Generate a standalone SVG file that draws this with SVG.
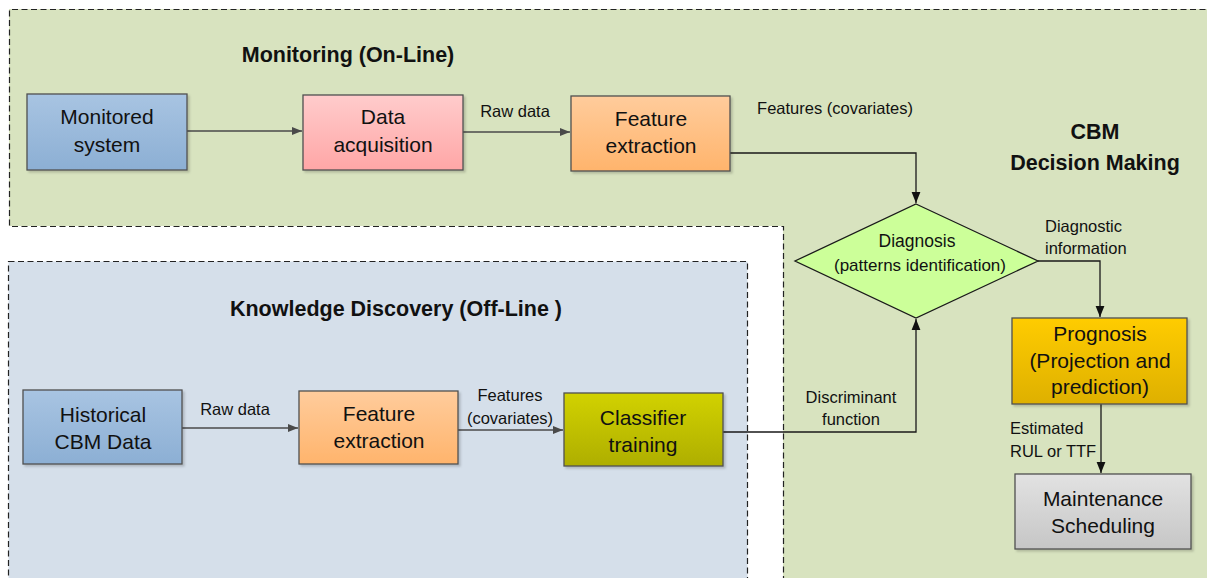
<svg xmlns="http://www.w3.org/2000/svg" width="1207" height="578" viewBox="0 0 1207 578">
<style>
.region{stroke:#222;stroke-width:1.2;stroke-dasharray:6 3.5;}
.box{stroke:#505050;stroke-width:1.3;}
.t{font-family:"Liberation Sans",Arial,sans-serif;fill:#111;text-anchor:middle;}
.bt{font-size:21px;}
.lb{font-size:16.5px;}
.ttl{font-size:21.5px;font-weight:bold;}
.conn{fill:none;stroke:#4a4a4a;stroke-width:1.5;}
.connk{fill:none;stroke:#1a1a1a;stroke-width:1.3;}
</style>
<defs>
<linearGradient id="gBlue" x1="0" y1="0" x2="0" y2="1"><stop offset="0" stop-color="#a8c4e2"/><stop offset="1" stop-color="#8cafd4"/></linearGradient>
<linearGradient id="gPink" x1="0" y1="0" x2="0" y2="1"><stop offset="0" stop-color="#ffcccc"/><stop offset="1" stop-color="#ffa6a6"/></linearGradient>
<linearGradient id="gOrange" x1="0" y1="0" x2="0" y2="1"><stop offset="0" stop-color="#ffcc9c"/><stop offset="1" stop-color="#ffb46c"/></linearGradient>
<linearGradient id="gOlive" x1="0" y1="0" x2="0" y2="1"><stop offset="0" stop-color="#d2d200"/><stop offset="1" stop-color="#aeae00"/></linearGradient>
<linearGradient id="gGold" x1="0" y1="0" x2="0" y2="1"><stop offset="0" stop-color="#ffcc00"/><stop offset="1" stop-color="#deb000"/></linearGradient>
<linearGradient id="gGray" x1="0" y1="0" x2="0" y2="1"><stop offset="0" stop-color="#e2e2e2"/><stop offset="1" stop-color="#c6c6c6"/></linearGradient>
<filter id="sh" x="-10%" y="-10%" width="130%" height="130%"><feDropShadow dx="2" dy="2" stdDeviation="1.2" flood-color="#000" flood-opacity="0.18"/></filter>
<marker id="ah" viewBox="0 0 10 10" refX="10" refY="5" markerWidth="10" markerHeight="10" markerUnits="userSpaceOnUse" orient="auto"><path d="M0,1 L10,5 L0,9 Z" fill="#4a4a4a"/></marker>
<marker id="ahk" viewBox="0 0 10 10" refX="10" refY="5" markerWidth="11" markerHeight="11" markerUnits="userSpaceOnUse" orient="auto"><path d="M0,1 L10,5 L0,9 Z" fill="#111"/></marker>
</defs>
<rect width="1207" height="578" fill="#ffffff"/>
<g id="region-monitoring">
<rect x="9" y="9" width="1210" height="217" fill="#d8e3bf"/>
<rect x="783" y="9" width="440" height="580" fill="#d8e3bf"/>
<path d="M1215,9.5 L9.5,9.5 L9.5,226.5 L783.5,226.5 L783.5,590" fill="none" class="region"/>
<text class="t ttl" x="348" y="62">Monitoring (On-Line)</text>
<text class="t ttl" x="1095" y="139">CBM</text>
<text class="t ttl" x="1095" y="170">Decision Making</text>
</g>
<g id="region-knowledge">
<rect x="8.5" y="261.5" width="739" height="330" fill="#d5dfea" class="region"/>
<text class="t ttl" x="396" y="316">Knowledge Discovery (Off-Line )</text>
</g>
<g id="connectors">
<path class="conn" d="M187,131 L302,131" marker-end="url(#ah)"/>
<path class="conn" d="M463,132 L570,132" marker-end="url(#ah)"/>
<path class="connk" d="M730,153 L916,153 L916,203" marker-end="url(#ahk)"/>
<path class="connk" d="M1038,261 L1100,261 L1100,317" marker-end="url(#ahk)"/>
<path class="connk" d="M1101,404 L1101,473" marker-end="url(#ahk)"/>
<path class="conn" d="M182,428 L298,428" marker-end="url(#ah)"/>
<path class="conn" d="M458,430 L563,430" marker-end="url(#ah)"/>
<path class="connk" d="M723,432 L916,432 L916,319" marker-end="url(#ahk)"/>
<text class="t lb" x="515" y="117">Raw data</text>
<text class="t lb" x="835" y="114">Features (covariates)</text>
<text class="t lb" x="1045" y="232" style="text-anchor:start">Diagnostic</text>
<text class="t lb" x="1045" y="254" style="text-anchor:start">information</text>
<text class="t lb" x="1010" y="434" style="text-anchor:start">Estimated</text>
<text class="t lb" x="1010" y="457" style="text-anchor:start">RUL or TTF</text>
<text class="t lb" x="235" y="415">Raw data</text>
<text class="t lb" x="510" y="401">Features</text>
<text class="t lb" x="510" y="424">(covariates)</text>
<text class="t lb" x="851" y="403">Discriminant</text>
<text class="t lb" x="851" y="425">function</text>
</g>
<g id="node-monitored">
<rect class="box" x="27" y="94" width="160" height="76" fill="url(#gBlue)" filter="url(#sh)"/>
<text class="t bt" x="107" y="124">Monitored</text>
<text class="t bt" x="107" y="152">system</text>
</g>
<g id="node-acquisition">
<rect class="box" x="303" y="95" width="160" height="75" fill="url(#gPink)" filter="url(#sh)"/>
<text class="t bt" x="383" y="124">Data</text>
<text class="t bt" x="383" y="152">acquisition</text>
</g>
<g id="node-feature-online">
<rect class="box" x="571" y="96" width="159" height="75" fill="url(#gOrange)" filter="url(#sh)"/>
<text class="t bt" x="651" y="126">Feature</text>
<text class="t bt" x="651" y="153">extraction</text>
</g>
<g id="node-diagnosis">
<polygon points="916,204 1038,261 916,318 795,261" fill="#ccff99" stroke="#1a1a1a" stroke-width="1.3"/>
<text class="t" style="font-size:17.5px" x="917" y="247">Diagnosis</text>
<text class="t" style="font-size:17px" x="920" y="271">(patterns identification)</text>
</g>
<g id="node-prognosis">
<rect class="box" x="1012" y="318" width="175" height="86" fill="url(#gGold)" filter="url(#sh)"/>
<text class="t bt" x="1100" y="341">Prognosis</text>
<text class="t bt" x="1100" y="368">(Projection and</text>
<text class="t bt" x="1100" y="394">prediction)</text>
</g>
<g id="node-maintenance">
<rect class="box" x="1015" y="474" width="176" height="75" fill="url(#gGray)" filter="url(#sh)"/>
<text class="t bt" x="1103" y="506">Maintenance</text>
<text class="t bt" x="1103" y="533">Scheduling</text>
</g>
<g id="node-historical">
<rect class="box" x="23" y="390" width="159" height="74" fill="url(#gBlue)" filter="url(#sh)"/>
<text class="t bt" x="103" y="422">Historical</text>
<text class="t bt" x="103" y="449">CBM Data</text>
</g>
<g id="node-feature-offline">
<rect class="box" x="299" y="391" width="159" height="73" fill="url(#gOrange)" filter="url(#sh)"/>
<text class="t bt" x="379" y="421">Feature</text>
<text class="t bt" x="379" y="448">extraction</text>
</g>
<g id="node-classifier">
<rect class="box" x="564" y="393" width="159" height="73" fill="url(#gOlive)" filter="url(#sh)"/>
<text class="t bt" x="643" y="425">Classifier</text>
<text class="t bt" x="643" y="452">training</text>
</g>
</svg>
